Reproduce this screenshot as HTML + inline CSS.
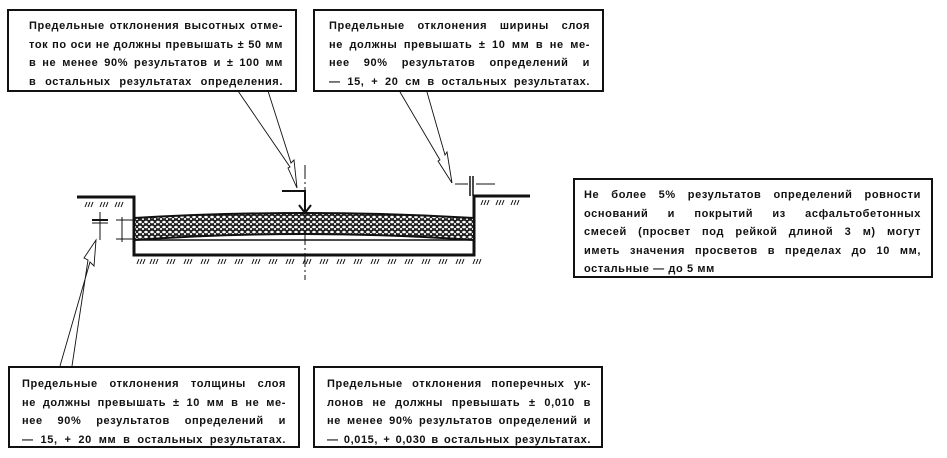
<!DOCTYPE html>
<html><head><meta charset="utf-8"><style>
body{margin:0;width:947px;height:458px;background:#fff;position:relative;overflow:hidden;font-family:"Liberation Sans","DejaVu Sans",sans-serif;}
.b{position:absolute;border:2px solid #111;box-sizing:border-box;font-weight:bold;font-size:11px;letter-spacing:0.6px;color:#111;}
.b div{text-align:justify;text-align-last:justify;white-space:nowrap;height:18.5px;line-height:18.5px;}
.b div.l{text-align-last:left;}
svg{position:absolute;left:0;top:0}
</style></head><body>
<svg width="947" height="458" viewBox="0 0 947 458">
<defs><pattern id="agg" width="6" height="5" patternUnits="userSpaceOnUse"><rect width="6" height="5" fill="#222"/><ellipse cx="2" cy="2" rx="1.8" ry="1.3" fill="#fff"/><ellipse cx="5" cy="4" rx="1.2" ry="1" fill="#fff"/></pattern></defs>
<g stroke="#111" fill="none">
<polyline points="77,197 134,197 134,255 474,255 474,196 530,196" stroke-width="3"/>
<path d="M134,218 Q305,208 474,218 L474,240 Q305,228 134,240 Z" fill="url(#agg)" stroke-width="2"/>
<line x1="134" y1="240" x2="474" y2="240" stroke-width="1.5"/>
<line x1="305" y1="165" x2="305" y2="280" stroke-width="1" stroke-dasharray="14,3,2,3"/>
<polyline points="282,191 305,191 305,212" stroke-width="2"/>
<polyline points="299,205 305,213 311,205" stroke-width="2"/>
<line x1="100" y1="212" x2="100" y2="240" stroke-width="1"/>
<line x1="92" y1="220" x2="108" y2="220" stroke-width="2"/>
<line x1="92" y1="223" x2="108" y2="223" stroke-width="1"/>
<line x1="116" y1="220" x2="134" y2="220" stroke-width="1"/>
<line x1="116" y1="239" x2="134" y2="239" stroke-width="1"/>
<line x1="122" y1="217" x2="122" y2="242" stroke-width="1"/>
<line x1="470" y1="176" x2="470" y2="196" stroke-width="1.5"/>
<line x1="473" y1="176" x2="473" y2="196" stroke-width="1.5"/>
<line x1="455" y1="184" x2="468" y2="184" stroke-width="1"/>
<line x1="476" y1="184" x2="495" y2="184" stroke-width="1"/>
<polyline points="238,91 290,167 288,168 297,188 294,160 291,163 268,91" stroke-width="0.9"/>
<polyline points="400,92 440,160 438,161 452,183 447,152 445,155 427,92" stroke-width="0.9"/>
<polyline points="60,366 90,262 94,266 96,240 84,258 88,260 72,366" stroke-width="0.9"/>
</g>
<g stroke="#111" stroke-width="1">
<path d="M85,207l2,-5M88,207l2,-5M91,207l2,-5M100,207l2,-5M103,207l2,-5M106,207l2,-5M115,207l2,-5M118,207l2,-5M121,207l2,-5"/>
<path d="M481,205l2,-5M484,205l2,-5M487,205l2,-5M496,205l2,-5M499,205l2,-5M502,205l2,-5M511,205l2,-5M514,205l2,-5M517,205l2,-5"/>
<path d="M137,264l2,-5M140,264l2,-5M143,264l2,-5"/>
</g>
<g stroke="#111" stroke-width="1" id="hs"></g>
</svg>
<script>
var g=document.getElementById('hs'),s='';
for(var x=150;x<474;x+=17){s+='M'+x+',264l2,-5M'+(x+3)+',264l2,-5M'+(x+6)+',264l2,-5';}
var p=document.createElementNS('http://www.w3.org/2000/svg','path');p.setAttribute('d',s);g.appendChild(p);
</script>
<div class="b" style="left:7px;top:9px;width:290px;height:83px;padding:6px 12px 0 20px;">
<div>Предельные отклонения высотных отме-</div>
<div>ток по оси не должны превышать ± 50 мм</div>
<div>в не менее 90% результатов и ± 100 мм</div>
<div>в остальных результатах определения.</div>
</div>
<div class="b" style="left:313px;top:9px;width:291px;height:83px;padding:6px 12px 0 14px;">
<div>Предельные отклонения ширины слоя</div>
<div>не должны превышать ± 10 мм в не ме-</div>
<div>нее 90% результатов определений и</div>
<div>— 15, + 20 см в остальных результатах.</div>
</div>
<div class="b" style="left:573px;top:178px;width:360px;height:100px;padding:6px 10px 0 9px;">
<div>Не более 5% результатов определений ровности</div>
<div>оснований и покрытий из асфальтобетонных</div>
<div>смесей (просвет под рейкой длиной 3 м) могут</div>
<div>иметь значения просветов в пределах до 10 мм,</div>
<div class="l">остальные — до 5 мм</div>
</div>
<div class="b" style="left:8px;top:366px;width:292px;height:82px;padding:7px 12px 0 12px;">
<div>Предельные отклонения толщины слоя</div>
<div>не должны превышать ± 10 мм в не ме-</div>
<div>нее 90% результатов определений и</div>
<div>— 15, + 20 мм в остальных результатах.</div>
</div>
<div class="b" style="left:313px;top:366px;width:290px;height:82px;padding:7px 10px 0 12px;">
<div>Предельные отклонения поперечных ук-</div>
<div>лонов не должны превышать ± 0,010 в</div>
<div>не менее 90% результатов определений и</div>
<div>— 0,015, + 0,030 в остальных результатах.</div>
</div>
</body></html>
